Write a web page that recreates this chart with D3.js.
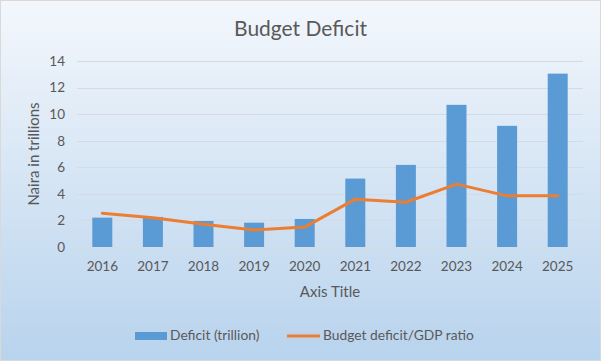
<!DOCTYPE html>
<html>
<head>
<meta charset="utf-8">
<script src="https://cdn.jsdelivr.net/npm/d3@7"></script>
<style>
  body { margin: 0; }
  svg text { font-family: Lato, "Open Sans", sans-serif; fill: #595959; }
</style>
</head>
<body>
<div id="chart"></div>
<script>
const years = ['2016', '2017', '2018', '2019', '2020', '2021', '2022', '2023', '2024', '2025'];
const deficit = [2.21, 2.26, 1.96, 1.83, 2.11, 5.15, 6.18, 10.7, 9.12, 13.05];
const gdpRatio = [2.54, 2.2, 1.71, 1.28, 1.5, 3.6, 3.37, 4.73, 3.85, 3.85];
const yTicks = [0, 2, 4, 6, 8, 10, 12, 14];

const width = 601, height = 361;
const margin = { top: 61, right: 18, bottom: 114, left: 77 };

const svg = d3.select('#chart').append('svg')
    .attr('width', width).attr('height', height);

let defs = svg.append('defs');
let grad = defs.append('linearGradient').attr('id', 'bg')
    .attr('x1', 0).attr('y1', 0).attr('x2', 0).attr('y2', 1);
grad.append('stop').attr('offset', '0%').attr('stop-color', '#f3f7fc');
grad.append('stop').attr('offset', '100%').attr('stop-color', '#b8d3ed');

svg.append('rect')
    .attr('x', 0.5).attr('y', 0.5)
    .attr('width', width - 1).attr('height', height - 1)
    .attr('fill', 'url(#bg)').attr('stroke', '#d9d9d9');

let x = d3.scaleBand().domain(years)
    .range([margin.left, width - margin.right]);
let y = d3.scaleLinear().domain([0, 14])
    .range([height - margin.bottom, margin.top]);

// gridlines
svg.append('g').selectAll('line').data(yTicks).enter().append('line')
    .attr('x1', margin.left).attr('x2', width - margin.right)
    .attr('y1', d => Math.round(y(d)) + 0.5).attr('y2', d => Math.round(y(d)) + 0.5)
    .attr('stroke', '#d4dbe3').attr('stroke-width', 1);

// y axis labels
let yAxis = d3.axisLeft(y).tickValues(yTicks).tickSize(0).tickPadding(12);
svg.append('g').attr('transform', 'translate(' + margin.left + ',0)')
    .call(yAxis)
    .call(g => g.select('.domain').remove())
    .selectAll('text').style('font-size', '13.5px').attr('fill', '#595959');

// x axis labels
let xAxis = d3.axisBottom(x).tickSize(0).tickPadding(14);
svg.append('g').attr('transform', 'translate(0,' + (height - margin.bottom) + ')')
    .call(xAxis)
    .call(g => g.select('.domain').remove())
    .selectAll('text').style('font-size', '13.5px').attr('fill', '#595959');

// bars
let barW = 20;
svg.append('g').selectAll('rect').data(deficit).enter().append('rect')
    .attr('x', (d, i) => x(years[i]) + x.bandwidth() / 2 - barW / 2)
    .attr('y', d => y(d))
    .attr('width', barW)
    .attr('height', d => y(0) - y(d))
    .attr('fill', '#5b9bd5');

// line
let line = d3.line()
    .x((d, i) => x(years[i]) + x.bandwidth() / 2)
    .y(d => y(d));
svg.append('path').datum(gdpRatio)
    .attr('d', line)
    .attr('fill', 'none')
    .attr('stroke', '#ed7d31')
    .attr('stroke-width', 3)
    .attr('stroke-linejoin', 'round')
    .attr('stroke-linecap', 'round');

// titles
svg.append('text').attr('x', width / 2).attr('y', 36)
    .attr('text-anchor', 'middle').style('font-size', '21px')
    .text('Budget Deficit');

svg.append('text').attr('x', (margin.left + width - margin.right) / 2).attr('y', 297)
    .attr('text-anchor', 'middle').style('font-size', '15px')
    .text('Axis Title');

svg.append('text')
    .attr('transform', 'translate(39,' + ((margin.top + height - margin.bottom) / 2) + ') rotate(-90)')
    .attr('text-anchor', 'middle').style('font-size', '15px')
    .text('Naira in trillions');

// legend
let legend = svg.append('g');
legend.append('rect').attr('x', 135).attr('y', 332).attr('width', 32).attr('height', 8)
    .attr('fill', '#5b9bd5');
legend.append('text').attr('x', 170).attr('y', 340).style('font-size', '13.8px')
    .text('Deficit (trillion)');
legend.append('line').attr('x1', 287).attr('x2', 320).attr('y1', 336).attr('y2', 336)
    .attr('stroke', '#ed7d31').attr('stroke-width', 3);
legend.append('text').attr('x', 323).attr('y', 340).style('font-size', '13.8px')
    .text('Budget deficit/GDP ratio');
</script>
</body>
</html>
